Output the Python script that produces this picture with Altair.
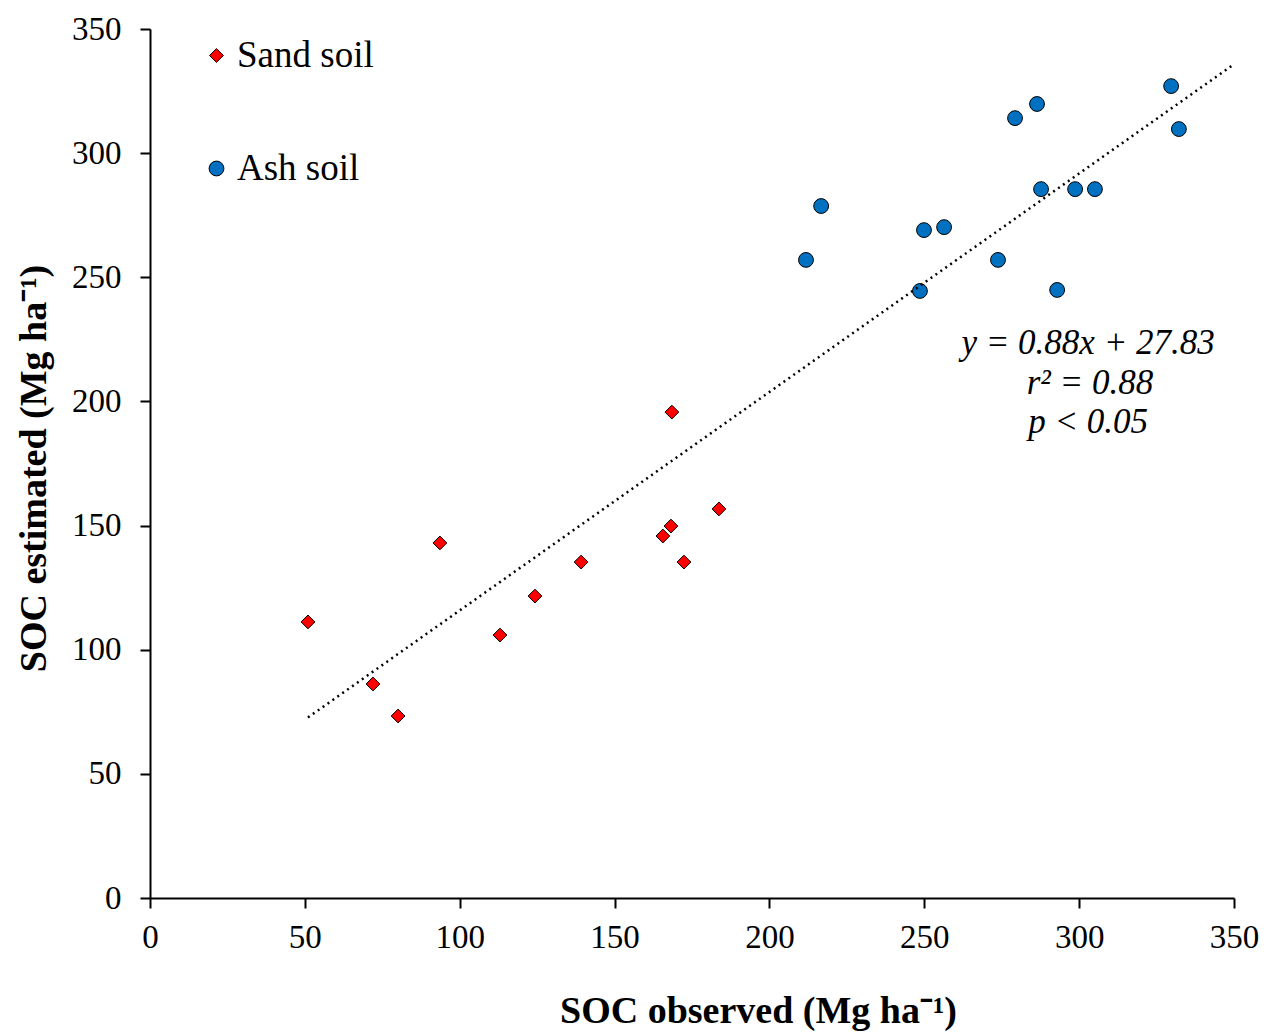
import altair as alt
import pandas as pd

# Sand soil (diamonds)
sand_obs = [51.0, 72.0, 80.1, 93.6, 113.0, 124.3, 139.2, 165.6, 168.2, 168.5, 172.4, 183.7]
sand_est = [111.2, 86.2, 73.3, 143.0, 105.9, 121.6, 135.3, 145.8, 149.8, 195.7, 135.3, 156.7]

# Ash soil (circles)
ash_obs = [211.8, 216.7, 248.6, 249.9, 256.4, 273.8, 279.3, 286.4, 287.7, 292.9, 298.7, 305.1, 329.7, 332.2]
ash_est = [257.0, 278.7, 244.5, 269.0, 270.2, 257.0, 314.1, 319.8, 285.5, 244.9, 285.5, 285.5, 327.0, 309.7]

# trend line (y = 0.88x + 27.83) end points
trend_x = [51.0, 350.0]
trend_y = [72.7, 335.8]

# annotation
eq_lines = ["y = 0.88x + 27.83", "r² = 0.88", "p < 0.05"]
eq_x = [302.9, 303.5, 302.9]
eq_y = [223.5, 207.4, 191.7]

soil_names = ["Sand soil", "Ash soil"]
FONT = "Liberation Serif"

pts = pd.DataFrame({
    "obs": sand_obs + ash_obs,
    "est": sand_est + ash_est,
    "soil": [soil_names[0]] * len(sand_obs) + [soil_names[1]] * len(ash_obs),
})
trend = pd.DataFrame({"obs": trend_x, "est": trend_y})
eq = pd.DataFrame({"obs": eq_x, "est": eq_y, "txt": eq_lines})

xscale = alt.Scale(domain=[0, 350], nice=False, zero=True)
yscale = alt.Scale(domain=[0, 350], nice=False, zero=True)

xaxis = alt.Axis(
    title="SOC observed (Mg ha⁻¹)", values=list(range(0, 351, 50)), grid=False,
    tickSize=10, tickWidth=2, tickColor="black", domainColor="black", domainWidth=2,
    labelFont=FONT, labelFontSize=33, labelColor="black", labelPadding=13, labelFlush=False,
    titleFont=FONT, titleFontSize=38, titleFontWeight="bold", titleColor="black",
    titleX=608, titleY=124, titleBaseline="alphabetic", titleAlign="center",
)
yaxis = alt.Axis(
    title="SOC estimated (Mg ha⁻¹)", values=list(range(0, 351, 50)), grid=False,
    tickSize=10, tickWidth=2, tickColor="black", domainColor="black", domainWidth=2,
    labelFont=FONT, labelFontSize=33, labelColor="black", labelPadding=19, labelFlush=False,
    titleFont=FONT, titleFontSize=38, titleFontWeight="bold", titleColor="black",
    titleX=-105, titleY=439, titleBaseline="alphabetic", titleAlign="center", titleAngle=270,
)

legend = alt.Legend(
    title=None, orient="none", legendX=48, legendY=8, direction="vertical",
    labelFont=FONT, labelFontSize=37, labelColor="black", labelOffset=2,
    rowPadding=75, padding=0, symbolStrokeColor="black", symbolStrokeWidth=1,
)

points = alt.Chart(pts).mark_point(filled=True, strokeWidth=1, opacity=1).encode(
    x=alt.X("obs:Q", scale=xscale, axis=xaxis),
    y=alt.Y("est:Q", scale=yscale, axis=yaxis),
    fill=alt.Fill("soil:N", scale=alt.Scale(domain=soil_names, range=["#FF0000", "#0070C0"]), legend=legend),
    stroke=alt.Stroke("soil:N", scale=alt.Scale(domain=soil_names, range=["black", "black"]), legend=legend),
    shape=alt.Shape("soil:N", scale=alt.Scale(domain=soil_names, range=["diamond", "circle"]), legend=legend),
    size=alt.Size("soil:N", scale=alt.Scale(domain=soil_names, range=[190, 220]), legend=legend),
)

line = alt.Chart(trend).mark_line(color="black", strokeWidth=2.5, strokeDash=[2, 4]).encode(
    x=alt.X("obs:Q", scale=xscale),
    y=alt.Y("est:Q", scale=yscale),
)

text = alt.Chart(eq).mark_text(
    font=FONT, fontSize=35, fontStyle="italic", color="black", align="center", baseline="middle"
).encode(
    x=alt.X("obs:Q", scale=xscale),
    y=alt.Y("est:Q", scale=yscale),
    text="txt:N",
)

chart = alt.layer(points, line, text).properties(
    width=1084, height=869,
    autosize=alt.AutoSizeParams(type="none"),
    padding={"left": 150, "top": 29, "right": 35, "bottom": 135},
    background="white",
).configure_view(strokeWidth=0, stroke=None)

chart.save("out.html", embed_options={"renderer": "svg", "actions": False})
